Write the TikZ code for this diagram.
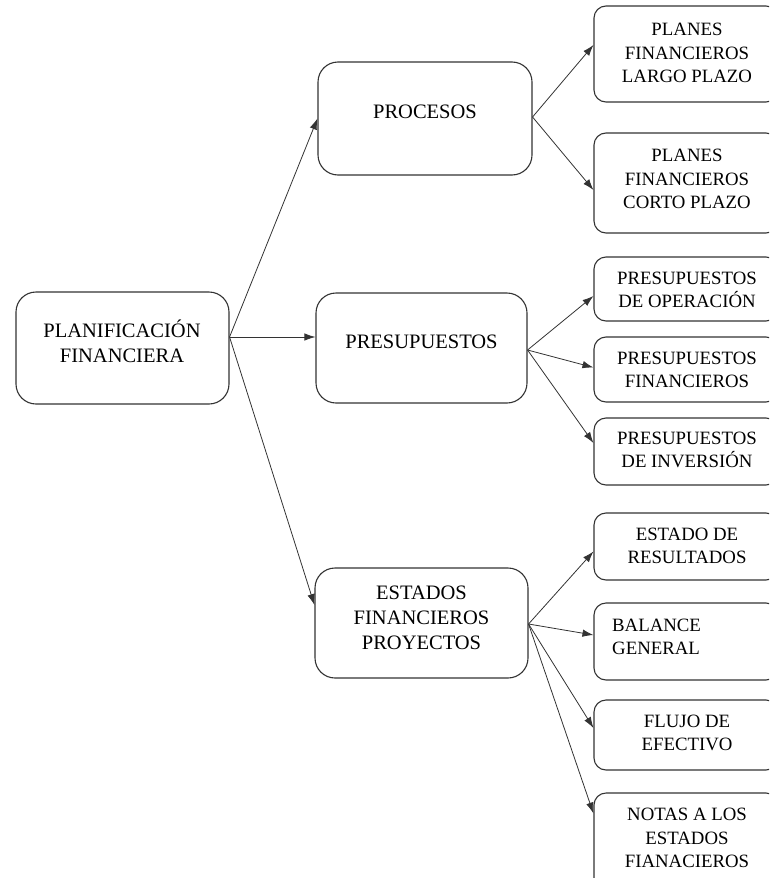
\documentclass[tikz,border=0pt]{standalone}
\usepackage{fontspec}
\setmainfont{Liberation Serif}
\usetikzlibrary{arrows.meta}
\begin{document}
\begin{tikzpicture}[x=1pt,y=-1pt,
  bigbox/.style={draw=black!80,line width=1.1pt,rounded corners=20pt,inner sep=0pt},
  smallbox/.style={draw=black!80,line width=1.1pt,rounded corners=12pt,inner sep=0pt,minimum width=184pt},
  bigtxt/.style={align=center,font=\fontsize{20.5}{25}\selectfont,inner sep=0pt},
  smalltxt/.style={align=center,font=\fontsize{18.8}{23.5}\selectfont,inner sep=0pt},
  conn/.style={draw=black!80,line width=0.8pt,-{Latex[length=11pt,width=7.5pt]}}]
\useasboundingbox (0,0) rectangle (769,878);
\begin{scope}
\clip (0,0) rectangle (769,878);
% main boxes
\node[bigbox,minimum width=213pt,minimum height=112pt] (plan) at (122.5,348) {};
\node[bigbox,minimum width=214pt,minimum height=113pt] (proc) at (425,118.5) {};
\node[bigbox,minimum width=211pt,minimum height=110pt] (pres) at (421.5,348) {};
\node[bigbox,minimum width=213pt,minimum height=110pt] (est) at (421.5,623) {};
% right boxes
\node[smallbox,minimum height=96pt] (plp) at (686,54) {};
\node[smallbox,minimum height=100pt] (pcp) at (686,183) {};
\node[smallbox,minimum height=64pt] (pop) at (686,289) {};
\node[smallbox,minimum height=65pt] (pfin) at (686,369.5) {};
\node[smallbox,minimum height=67pt] (pinv) at (686,451.5) {};
\node[smallbox,minimum height=67pt] (res) at (686,546.5) {};
\node[smallbox,minimum height=77pt] (bal) at (686,641.5) {};
\node[smallbox,minimum height=70pt] (flu) at (686,735) {};
\node[smallbox,minimum height=97pt] (nota) at (686,841.5) {};
\end{scope}
% texts
\node[bigtxt] (tplan) at (122,341) {PLANIFICACIÓN\\FINANCIERA};
\node[bigtxt] (tproc) at (425,112) {PROCESOS};
\node[bigtxt] (tpres) at (421.5,342) {PRESUPUESTOS};
\node[bigtxt] (test) at (421.5,618) {ESTADOS\\FINANCIEROS\\PROYECTOS};
\node[smalltxt] (tplp) at (687,53) {PLANES\\FINANCIEROS\\LARGO PLAZO};
\node[smalltxt] (tpcp) at (687,179) {PLANES\\FINANCIEROS\\CORTO PLAZO};
\node[smalltxt] (tpop) at (687,290) {PRESUPUESTOS\\DE OPERACIÓN};
\node[smalltxt] (tpfin) at (687,370) {PRESUPUESTOS\\FINANCIEROS};
\node[smalltxt] (tpinv) at (687,450) {PRESUPUESTOS\\DE INVERSIÓN};
\node[smalltxt] (tres) at (687,546) {ESTADO DE\\RESULTADOS};
\node[smalltxt,align=left,anchor=west] (tbal) at (612,637) {BALANCE\\GENERAL};
\node[smalltxt] (tflu) at (687,733) {FLUJO DE\\EFECTIVO};
\node[smalltxt] (tnota) at (687,838) {NOTAS A LOS\\ESTADOS\\FIANACIEROS};
% connectors
\coordinate (p0) at ([yshift=11pt]plan.east);
\draw[conn] (p0) -- (proc.west);
\draw[conn] (p0) -- ([yshift=11pt]pres.west);
\draw[conn] (p0) -- ([yshift=18pt]est.west);
\coordinate (q0) at ([yshift=1.5pt]proc.east);
\draw[conn] (q0) -- ([yshift=9pt]plp.west);
\draw[conn] (q0) -- ([yshift=-7pt]pcp.west);
\coordinate (r0) at ([yshift=-2pt]pres.east);
\draw[conn] (r0) -- ([yshift=-7pt]pop.west);
\draw[conn] (r0) -- ([yshift=2pt]pfin.west);
\draw[conn] (r0) -- ([yshift=8.5pt]pinv.west);
\coordinate (s0) at ([yshift=-1pt]est.east);
\draw[conn] (s0) -- ([yshift=-5pt]res.west);
\draw[conn] (s0) -- ([yshift=6.5pt]bal.west);
\draw[conn] (s0) -- ([yshift=7pt]flu.west);
\draw[conn] (s0) -- ([yshift=28pt]nota.west);
\end{tikzpicture}
\end{document}
